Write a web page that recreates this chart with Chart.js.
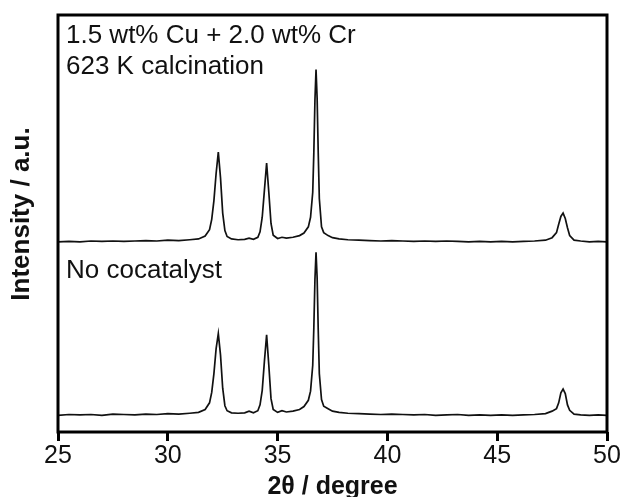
<!DOCTYPE html>
<html>
<head>
<meta charset="utf-8">
<script src="https://cdn.jsdelivr.net/npm/chart.js@4.4.1/dist/chart.umd.min.js"></script>
<style>
  html, body { margin: 0; padding: 0; background: #fff; }
  #wrap { width: 621px; height: 497px; }
</style>
</head>
<body>
<div id="wrap"><canvas id="xrdChart"></canvas></div>
<script>
// 2-theta positions (degree)
const twoTheta = [
    25.0, 25.5, 26.0, 26.5, 27.0, 27.5, 28.0, 28.5, 29.0, 29.5,
    30.0, 30.5, 31.0, 31.4, 31.7, 31.9, 32.0, 32.1, 32.2, 32.3,
    32.4, 32.5, 32.6, 32.7, 32.9, 33.2, 33.5, 33.7, 33.9, 34.1,
    34.2, 34.3, 34.4, 34.5, 34.6, 34.7, 34.8, 35.0, 35.2, 35.4,
    35.7, 36.0, 36.2, 36.4, 36.5, 36.6, 36.65, 36.7, 36.75, 36.8,
    36.85, 36.9, 37.0, 37.1, 37.3, 37.5, 37.8, 38.2, 38.7, 39.2,
    39.7, 40.2, 40.7, 41.2, 41.7, 42.2, 42.7, 43.2, 43.7, 44.2,
    44.7, 45.2, 45.7, 46.2, 46.7, 47.2, 47.5, 47.7, 47.8, 47.9,
    48.0, 48.1, 48.2, 48.3, 48.5, 48.8, 49.2, 49.6, 50.0
];

// lower pattern: no cocatalyst
const noCocatalyst = [
    4.0, 4.2, 4.1, 4.2, 4.0, 4.3, 4.2, 4.1, 4.3, 4.2,
    4.4, 4.3, 4.5, 4.7, 5.4, 7.0, 9.5, 14.0, 20.0, 23.6,
    18.5, 10.5, 6.3, 5.1, 4.6, 4.5, 4.6, 5.0, 4.6, 5.1,
    6.5, 10.0, 17.0, 23.3, 16.0, 8.0, 5.4, 4.7, 5.1, 4.8,
    5.0, 5.4, 6.1, 7.6, 9.8, 16.0, 25.0, 36.5, 43.1, 37.0,
    24.5, 14.0, 7.8, 6.2, 5.6, 5.0, 4.7, 4.5, 4.4, 4.3,
    4.2, 4.3, 4.2, 4.1, 4.2, 4.0, 4.1, 4.2, 4.0, 4.1,
    4.0, 4.1, 4.0, 4.1, 4.2, 4.4, 5.0, 5.6, 7.0, 9.4,
    10.3, 9.2, 6.5, 5.2, 4.3, 4.1, 4.0, 4.1, 4.0
];

// upper pattern: 1.5 wt% Cu + 2.0 wt% Cr, 623 K (stacked)
const cuCr623K = [
    45.6, 45.7, 45.6, 45.8, 45.7, 45.8, 45.7, 45.8, 45.9, 45.8,
    46.0, 45.9, 46.1, 46.3, 47.0, 48.5, 51.0, 55.5, 62.0, 67.1,
    61.0, 52.5, 48.3, 46.9, 46.3, 46.1, 46.2, 46.5, 46.2, 46.7,
    48.0, 51.5, 58.0, 64.5, 57.5, 50.0, 47.2, 46.4, 46.7, 46.5,
    46.7, 47.1, 47.7, 49.2, 51.5, 57.5, 67.0, 79.5, 86.9, 80.0,
    67.0, 56.0, 49.2, 47.8, 47.1, 46.6, 46.3, 46.1, 46.0, 45.9,
    45.8, 45.9, 45.8, 45.7, 45.8, 45.7, 45.8, 45.7, 45.6, 45.7,
    45.6, 45.7, 45.6, 45.7, 45.8, 46.0, 46.6, 47.8, 49.8, 51.7,
    52.5, 51.2, 49.0, 47.1, 46.0, 45.8, 45.6, 45.7, 45.6
];

const xTicks = [25, 30, 35, 40, 45, 50];
const labels = ['1.5 wt% Cu + 2.0 wt% Cr', '623 K calcination', 'No cocatalyst'];

const FONT = 'Liberation Sans, Arial, sans-serif';

function toPoints(ys) {
    return twoTheta.map((x, i) => ({ x: x, y: ys[i] }));
}

// frame, y title and sample labels
const framePlugin = {
    id: 'frame',
    afterDraw(chart) {
        const ctx = chart.ctx;
        const a = chart.chartArea;
        ctx.save();
        ctx.strokeStyle = '#000';
        ctx.lineWidth = 3;
        ctx.strokeRect(a.left, a.top, a.right - a.left, a.bottom - a.top);

        ctx.fillStyle = '#111';
        ctx.font = '26px ' + FONT;
        ctx.textBaseline = 'middle';
        ctx.textAlign = 'left';
        ctx.fillText(labels[0], a.left + 8, 36);
        ctx.fillText(labels[1], a.left + 8, 67);
        ctx.fillText(labels[2], a.left + 8, 271);

        ctx.translate(22, 214);
        ctx.rotate(-Math.PI / 2);
        ctx.textAlign = 'center';
        ctx.font = 'bold 26px ' + FONT;
        ctx.fillText('Intensity / a.u.', 0, 0);
        ctx.restore();
    }
};

function initChart() {
    const ctx = document.getElementById('xrdChart').getContext('2d');
    new Chart(ctx, {
        type: 'line',
        data: {
            datasets: [
                { label: labels[2], data: toPoints(noCocatalyst), borderColor: '#111', borderWidth: 1.7, pointRadius: 0, tension: 0 },
                { label: labels[0], data: toPoints(cuCr623K), borderColor: '#111', borderWidth: 1.7, pointRadius: 0, tension: 0 }
            ]
        },
        options: {
            responsive: true,
            maintainAspectRatio: false,
            animation: false,
            layout: { padding: { left: 58, right: 14, top: 15, bottom: -3 } },
            plugins: { legend: { display: false }, tooltip: { enabled: false } },
            scales: {
                x: {
                    type: 'linear',
                    min: 25,
                    max: 50,
                    afterBuildTicks: axis => { axis.ticks = xTicks.map(v => ({ value: v })); },
                    afterFit: axis => { axis.paddingLeft = 0; axis.paddingRight = 0; },
                    ticks: { color: '#111', padding: 3, font: { family: FONT, size: 25, lineHeight: 1 } },
                    grid: { drawOnChartArea: false, tickLength: 9, color: '#000', lineWidth: 3 },
                    border: { display: false },
                    title: {
                        display: true,
                        text: '2θ / degree',
                        color: '#111',
                        padding: { top: 3, bottom: 0 },
                        font: { family: FONT, size: 25, weight: 'bold', lineHeight: 1 }
                    }
                },
                y: { display: false, min: 0, max: 100 }
            }
        },
        plugins: [framePlugin]
    });
}

initChart();
</script>
</body>
</html>
